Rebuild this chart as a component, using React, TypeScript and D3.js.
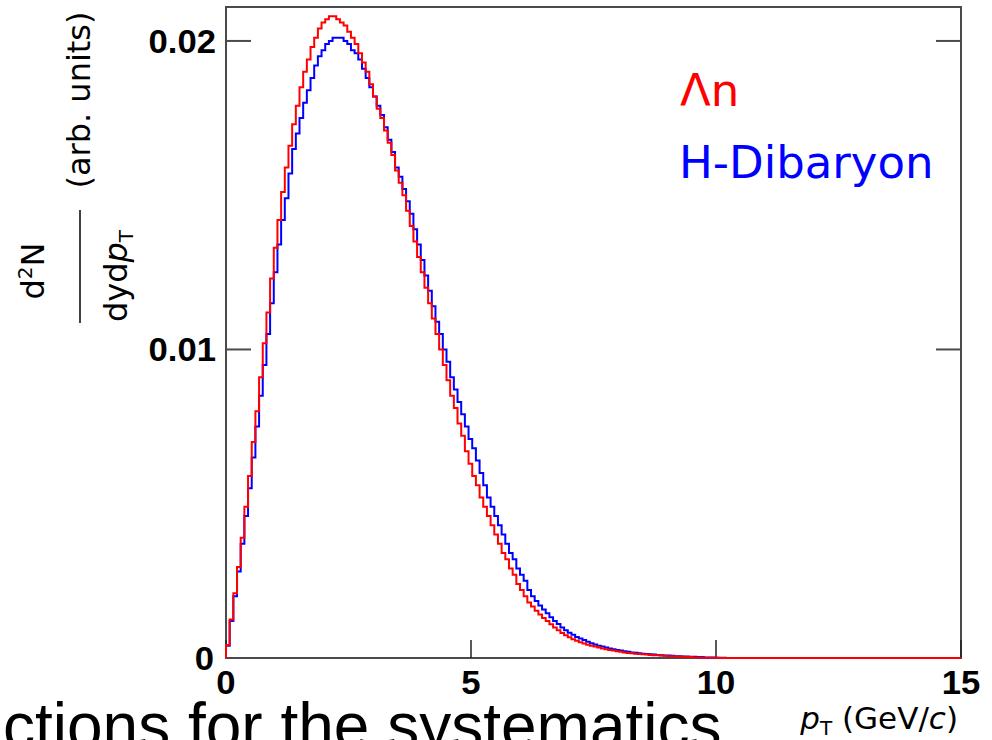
import React from 'react';
import * as d3 from 'd3';

// bin width of both histograms (GeV/c)
const BIN_WIDTH = 0.075;

// Λn spectrum, 200 bins over 0–15 GeV/c
const lambdaN = [
  0.00042, 0.00125, 0.0021, 0.00295, 0.0039, 0.0049, 0.0059, 0.0070, 0.0080, 0.0091,
  0.0102, 0.0112, 0.0123, 0.0133, 0.0142, 0.0151, 0.0159, 0.0166, 0.0173, 0.0179,
  0.0185, 0.0190, 0.0194, 0.0198, 0.0201, 0.0204, 0.0206, 0.0207, 0.0208, 0.0208,
  0.0207, 0.0206, 0.0205, 0.0203, 0.0201, 0.0199, 0.0196, 0.0193, 0.0190, 0.0186,
  0.0182, 0.0178, 0.0175, 0.0171, 0.0167, 0.0163, 0.0158, 0.0154, 0.0150, 0.0145,
  0.0140, 0.0135, 0.0130, 0.0125, 0.0120, 0.0115, 0.0110, 0.0105, 0.0100, 0.0095,
  0.0090, 0.0085, 0.0081, 0.0076, 0.0072, 0.0067, 0.0063, 0.0059, 0.0056, 0.0052,
  0.0049, 0.0046, 0.0043, 0.0040, 0.0037, 0.0034, 0.0032, 0.0029, 0.0027, 0.0024,
  0.0022, 0.0020, 0.0018, 0.00167, 0.00153, 0.00141, 0.00130, 0.00120, 0.00109, 0.00099,
  0.00090, 0.00081, 0.00074, 0.00067, 0.00061, 0.00056, 0.00051, 0.00047, 0.00043, 0.00040,
  0.00037, 0.00034, 0.00031, 0.00028, 0.00026, 0.00024, 0.00022, 0.00020, 0.00018, 0.00016,
  0.00015, 0.00014, 0.00013, 0.00012, 0.00011, 0.00010, 0.00009, 0.00009, 0.00008, 0.00007,
  0.00006, 0.00006, 0.00005, 0.00004, 0.00004, 0.00003, 0.00003, 0.00002, 0.00002, 0.00002,
  0.00001, 0.00001, 0.00001, 0.00001, 0, 0, 0, 0, 0, 0,
  0, 0, 0, 0, 0, 0, 0, 0, 0, 0,
  0, 0, 0, 0, 0, 0, 0, 0, 0, 0,
  0, 0, 0, 0, 0, 0, 0, 0, 0, 0,
  0, 0, 0, 0, 0, 0, 0, 0, 0, 0,
  0, 0, 0, 0, 0, 0, 0, 0, 0, 0,
  0, 0, 0, 0, 0, 0, 0, 0, 0, 0,
];

// H-Dibaryon spectrum, 136 bins over 0–10.2 GeV/c
const hDibaryon = [
  0.0004, 0.0012, 0.0020, 0.0028, 0.0037, 0.0046, 0.0055, 0.0065, 0.0075, 0.0085,
  0.0095, 0.0105, 0.0115, 0.0125, 0.0134, 0.0142, 0.0149, 0.0157, 0.0165, 0.0170,
  0.0175, 0.0180, 0.0184, 0.0188, 0.0192, 0.0195, 0.0197, 0.0199, 0.0200, 0.0201,
  0.0201, 0.0201, 0.0200, 0.0199, 0.0197, 0.0196, 0.0194, 0.0191, 0.0188, 0.0185,
  0.0182, 0.0179, 0.0176, 0.0172, 0.0168, 0.0164, 0.0159, 0.0156, 0.0152, 0.0148,
  0.0144, 0.0139, 0.0134, 0.0129, 0.0124, 0.0119, 0.0114, 0.0109, 0.0105, 0.0100,
  0.0096, 0.0091, 0.0087, 0.0083, 0.0079, 0.0075, 0.0071, 0.0068, 0.0064, 0.0060,
  0.0056, 0.0052, 0.0049, 0.0046, 0.0043, 0.0040, 0.0037, 0.0034, 0.0032, 0.0029,
  0.0027, 0.0025, 0.0022, 0.0020, 0.00185, 0.0017, 0.00157, 0.00145, 0.00132, 0.0012,
  0.0011, 0.00099, 0.0009, 0.00082, 0.00075, 0.00068, 0.00063, 0.00058, 0.00053, 0.00048,
  0.00044, 0.0004, 0.00037, 0.00034, 0.00031, 0.00028, 0.00026, 0.00024, 0.00022, 0.0002,
  0.00018, 0.00017, 0.00015, 0.00014, 0.00013, 0.00012, 0.00011, 0.0001, 0.00009, 0.00008,
  0.00008, 0.00007, 0.00006, 0.00006, 0.00005, 0.00005, 0.00004, 0.00004, 0.00003, 0.00003,
  0.00002, 0.00002, 0.00002, 0.00001, 0.00001, 0.00001,
];

const xTicks = [0, 5, 10, 15];
const xTickLabels = ['0', '5', '10', '15'];
const yTicks = [0, 0.01, 0.02];
const yTickLabels = ['0', '0.01', '0.02'];
const legendLabels = ['Λn', 'H-Dibaryon'];
const seriesColors = ['#ff0000', '#0000ff'];

export default function App() {
  const W = 992;
  const H = 740;
  const left = 226, right = 961, top = 7, bottom = 658;
  const x = d3.scaleLinear().domain([0, 15]).range([left, right]);
  const y = d3.scaleLinear().domain([0, 0.0211]).range([bottom, top]);

  const histPath = (vals: number[]) => {
    const pts: [number, number][] = [[0, 0]];
    vals.forEach((v, i) => pts.push([i * BIN_WIDTH, v]));
    const end = vals.length * BIN_WIDTH;
    pts.push([end, vals[vals.length - 1]]);
    pts.push([end, 0]);
    return d3
      .line<[number, number]>()
      .x((d) => x(d[0]))
      .y((d) => y(d[1]))
      .curve(d3.curveStepAfter)(pts) as string;
  };

  const axisColor = '#4a4a4a';
  const tickFont = "'Liberation Sans', Arial, sans-serif";
  const titleFont = "'DejaVu Sans', sans-serif";

  return (
    <svg
      width={W}
      height={H}
      style={{ position: 'absolute', left: 0, top: 0, background: '#fff' }}
    >
      <rect x={0} y={0} width={W} height={H} fill="#fff" />

      {/* frame */}
      <rect
        x={left}
        y={top}
        width={right - left}
        height={bottom - top}
        fill="none"
        stroke={axisColor}
        strokeWidth={2}
      />

      {/* y ticks (left and right) */}
      {yTicks.map((t) => (
        <g key={'yt' + t}>
          <line x1={left} x2={left + 25} y1={y(t)} y2={y(t)} stroke={axisColor} strokeWidth={2} />
          <line x1={right - 25} x2={right} y1={y(t)} y2={y(t)} stroke={axisColor} strokeWidth={2} />
        </g>
      ))}
      {/* x ticks (bottom) */}
      {xTicks.map((t) => (
        <line key={'xt' + t} x1={x(t)} x2={x(t)} y1={bottom} y2={bottom - 18} stroke="#222" strokeWidth={1.5} />
      ))}

      {/* histograms */}
      <path d={histPath(hDibaryon)} fill="none" stroke={seriesColors[1]} strokeWidth={2} />
      <path d={histPath(lambdaN)} fill="none" stroke={seriesColors[0]} strokeWidth={2} />

      {/* y tick labels */}
      {yTicks.map((t, i) => (
        <text
          key={'yl' + t}
          transform={`translate(${t === 0 ? 214 : 216},${y(t) + (t === 0 ? 12 : 12)}) scale(1.05,1)`}
          textAnchor="end"
          fontFamily={tickFont}
          fontWeight="bold"
          fontSize={33}
          fill="#000"
        >
          {yTickLabels[i]}
        </text>
      ))}
      {/* x tick labels */}
      {xTicks.map((t, i) => (
        <text
          key={'xl' + t}
          transform={`translate(${x(t)},${694}) scale(1.05,1)`}
          textAnchor="middle"
          fontFamily={tickFont}
          fontWeight="bold"
          fontSize={33}
          fill="#000"
        >
          {xTickLabels[i]}
        </text>
      ))}

      {/* x axis title */}
      <text x={958} y={729} textAnchor="end" fontFamily={titleFont} fontSize={31} fill="#000">
        <tspan fontStyle="italic">p</tspan>
        <tspan fontSize={20} dy={6}>T</tspan>
        <tspan dy={-6}> (GeV/</tspan>
        <tspan fontStyle="italic">c</tspan>
        <tspan>)</tspan>
      </text>

      {/* y axis title */}
      <g transform="rotate(-90)" fontFamily={titleFont} fill="#000">
        <text x={-271} y={44} textAnchor="middle" fontSize={32}>
          <tspan>d</tspan>
          <tspan fontSize={20} dy={-12}>2</tspan>
          <tspan dy={12}>N</tspan>
        </text>
        <line x1={-323} x2={-210} y1={80} y2={80} stroke="#111" strokeWidth={1.6} />
        <text x={-276} y={127} textAnchor="middle" fontSize={32}>
          <tspan>dyd</tspan>
          <tspan fontStyle="italic">p</tspan>
          <tspan fontSize={20} dy={6}>T</tspan>
        </text>
        <text x={-100} y={90} textAnchor="middle" fontSize={32}>
          (arb. units)
        </text>
      </g>

      {/* legend */}
      <text x={680} y={106} fontFamily={titleFont} fontSize={45} fill={seriesColors[0]}>
        {legendLabels[0]}
      </text>
      <text x={679} y={178} fontFamily={titleFont} fontSize={45} fill={seriesColors[1]}>
        {legendLabels[1]}
      </text>

      {/* slide text overlapping at the bottom */}
      <text x={3} y={748} fontFamily={tickFont} fontSize={64} fill="#000">
        ctions for the systematics
      </text>
    </svg>
  );
}
